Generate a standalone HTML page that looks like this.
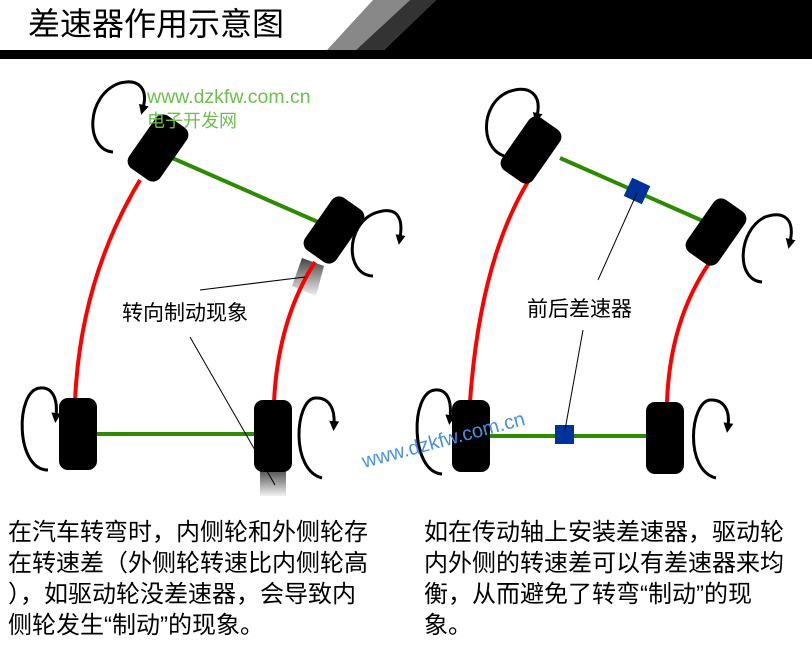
<!DOCTYPE html>
<html><head><meta charset="utf-8"><style>
html,body{margin:0;padding:0;background:#fff;}
svg{display:block;}
text{font-family:"Liberation Sans","Noto Sans CJK SC",sans-serif;}
</style></head><body>
<svg width="812" height="667" viewBox="0 0 812 667" xmlns="http://www.w3.org/2000/svg">
<defs>
<marker id="ah" markerWidth="10" markerHeight="10" refX="3" refY="5" orient="auto" markerUnits="userSpaceOnUse">
<path d="M0,0 L10,5 L0,10 z" fill="#000"/></marker>
<linearGradient id="sk" x1="0" y1="0" x2="0" y2="1"><stop offset="0" stop-color="#222"/><stop offset="1" stop-color="#eee"/></linearGradient>
</defs>
<rect width="812" height="667" fill="#fff"/>
<rect x="0" y="50" width="812" height="9" fill="#000"/>
<polygon points="327,50 373,0 410,0 356,50" fill="#888"/>
<polygon points="356,50 410,0 436,0 384,50" fill="#333"/>
<polygon points="384,50 436,0 812,0 812,50" fill="#000"/>
<text x="28" y="35" font-size="32" fill="#000">差速器作用示意图</text>

<polygon points="302,258 324,266 316,296 292,286" fill="url(#sk)" opacity="0.85"/>
<rect x="260" y="470" width="26" height="26" fill="url(#sk)" opacity="0.8"/>
<path d="M140,180 Q80,280 75,402" fill="none" stroke="#f00" stroke-width="4"/>
<path d="M315,262 Q278,320 274,402" fill="none" stroke="#f00" stroke-width="4"/>
<line x1="170" y1="157" x2="318" y2="222" stroke="#2e8b00" stroke-width="4"/>
<line x1="95" y1="434" x2="256" y2="434" stroke="#2e8b00" stroke-width="4"/>
<g transform="translate(158,148) rotate(35)"><rect x="-19" y="-32" width="38" height="64" rx="9" fill="#000"/></g>
<g transform="translate(334,230) rotate(35)"><rect x="-19" y="-32" width="38" height="64" rx="9" fill="#000"/></g>
<rect x="59" y="398" width="38" height="72" rx="9" fill="#000"/>
<rect x="254" y="400" width="38" height="72" rx="9" fill="#000"/>
<path d="M113,152 C85,150 85,95 120,83 C140,78 148,90 143,108" fill="none" stroke="#000" stroke-width="3" marker-end="url(#ah)"/>
<path d="M373,276 C345,275 345,225 375,213 C395,206 404,215 400,238" fill="none" stroke="#000" stroke-width="3" marker-end="url(#ah)"/>
<path d="M48,470 C15,470 15,390 40,388 C52,387 58,398 56,416" fill="none" stroke="#000" stroke-width="3" marker-end="url(#ah)"/>
<path d="M322,478 C290,470 295,400 315,398 C330,397 335,410 334,424" fill="none" stroke="#000" stroke-width="3" marker-end="url(#ah)"/>
<text x="147" y="103" font-size="19.5" fill="#6cbf4c">www.dzkfw.com.cn</text>
<text x="147" y="127" font-size="18" fill="#6cbf4c">电子开发网</text>
<text x="122" y="320" font-size="21" fill="#000">转向制动现象</text>
<line x1="200" y1="290" x2="305" y2="277" stroke="#000" stroke-width="1"/>
<line x1="190" y1="337" x2="275" y2="485" stroke="#000" stroke-width="1"/>

<path d="M529,180 Q480,260 470,402" fill="none" stroke="#f00" stroke-width="4"/>
<path d="M710,262 Q670,320 667,402" fill="none" stroke="#f00" stroke-width="4"/>
<line x1="560" y1="158" x2="712" y2="225" stroke="#2e8b00" stroke-width="4"/>
<line x1="488" y1="436" x2="650" y2="436" stroke="#2e8b00" stroke-width="4"/>
<g transform="translate(637,191) rotate(25)"><rect x="-10" y="-10" width="20" height="20" fill="#003399"/></g>
<rect x="555" y="425" width="19" height="19" fill="#003399"/>
<g transform="translate(531,150) rotate(35)"><rect x="-19" y="-32" width="38" height="64" rx="9" fill="#000"/></g>
<g transform="translate(716,232) rotate(35)"><rect x="-19" y="-32" width="38" height="64" rx="9" fill="#000"/></g>
<rect x="452" y="400" width="38" height="72" rx="9" fill="#000"/>
<rect x="646" y="402" width="38" height="72" rx="9" fill="#000"/>
<path d="M510,157 C480,155 478,105 508,92 C530,84 542,95 537,116" fill="none" stroke="#000" stroke-width="3" marker-end="url(#ah)"/>
<path d="M762,282 C735,280 738,230 765,217 C785,210 795,220 790,242" fill="none" stroke="#000" stroke-width="3" marker-end="url(#ah)"/>
<path d="M442,474 C410,472 410,392 435,390 C447,389 452,400 450,418" fill="none" stroke="#000" stroke-width="3" marker-end="url(#ah)"/>
<path d="M716,478 C684,470 690,402 710,400 C725,399 730,412 728,426" fill="none" stroke="#000" stroke-width="3" marker-end="url(#ah)"/>
<text x="527" y="316" font-size="21" fill="#000">前后差速器</text>
<line x1="637" y1="193" x2="598" y2="280" stroke="#000" stroke-width="1"/>
<line x1="583" y1="330" x2="565" y2="430" stroke="#000" stroke-width="1"/>
<text x="0" y="0" font-size="20" fill="#4a90e2" transform="translate(364,468) rotate(-15)">www.dzkfw.com.cn</text>

<g font-size="24" fill="#000">
<text x="8" y="540">在汽车转弯时，内侧轮和外侧轮存</text>
<text x="8" y="571">在转速差（外侧轮转速比内侧轮高</text>
<text x="8" y="602">），如驱动轮没差速器，会导致内</text>
<text x="8" y="633">侧轮发生“制动”的现象。</text>
<text x="424" y="540">如在传动轴上安装差速器，驱动轮</text>
<text x="424" y="571">内外侧的转速差可以有差速器来均</text>
<text x="424" y="602">衡，从而避免了转弯“制动”的现</text>
<text x="424" y="633">象。</text>
</g>
</svg>
</body></html>
